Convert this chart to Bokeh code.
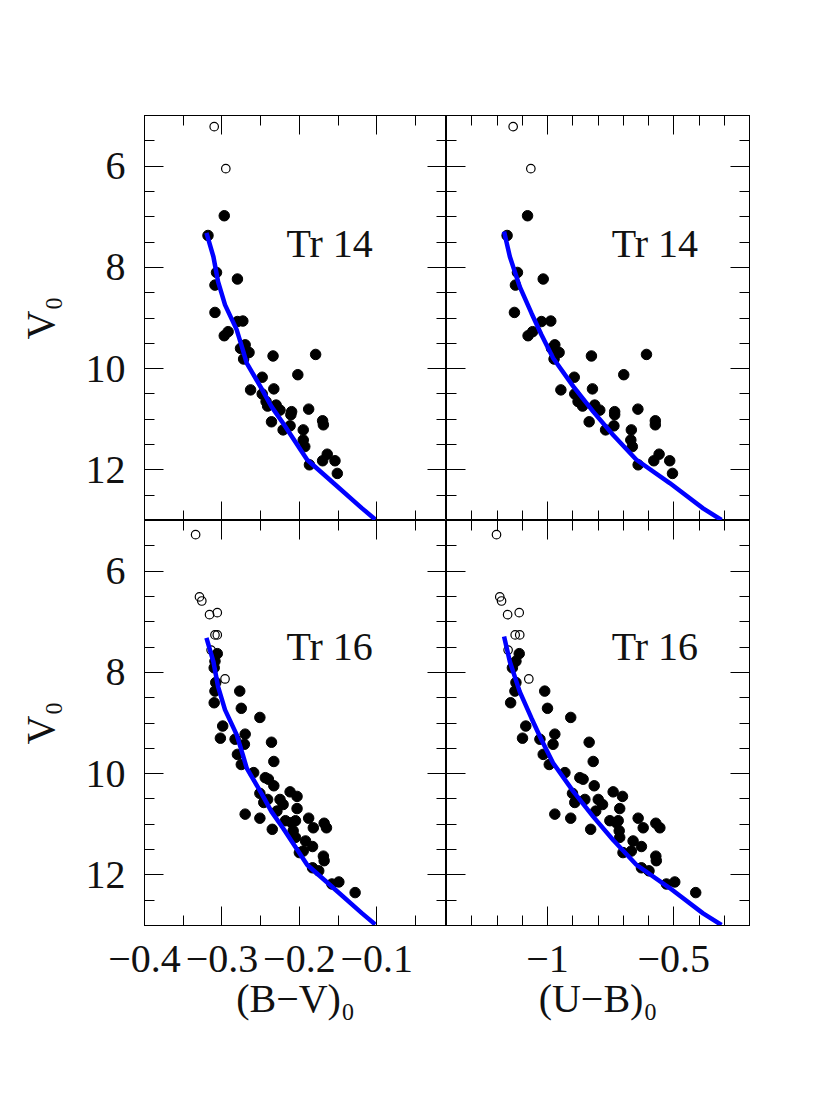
from bokeh.plotting import figure
from bokeh.layouts import column, row
from bokeh.models import (Range1d, FixedTicker, LinearAxis, CustomJSTickFormatter, Label,
                          CustomLabelingPolicy)
from bokeh.embed import file_html
from bokeh.resources import INLINE

# ---------------- data ----------------
# Tr 14 members (filled) : V0, (B-V)0, (U-B)0
tr14_V = [6.98, 7.37, 8.10, 8.35, 8.23, 8.89, 9.35, 9.27, 9.07, 9.06, 9.53, 9.60, 9.68, 9.81,
          9.75, 9.72, 10.12, 10.17, 10.42, 10.40, 10.50, 10.65, 10.74, 10.72, 10.82, 10.85,
          10.91, 10.80, 11.05, 11.21, 11.13, 11.03, 11.11, 11.21, 11.41, 11.54, 11.90, 11.82,
          11.69, 11.82, 12.07]
tr14_bv = [-0.297, -0.318, -0.307, -0.309, -0.280, -0.309, -0.297, -0.292, -0.280, -0.273,
           -0.270, -0.276, -0.265, -0.272, -0.234, -0.179, -0.202, -0.248, -0.263, -0.233,
           -0.248, -0.243, -0.241, -0.230, -0.225, -0.210, -0.211, -0.188, -0.236, -0.221,
           -0.212, -0.170, -0.169, -0.195, -0.195, -0.193, -0.187, -0.170, -0.164, -0.154,
           -0.151]
tr14_ub = [-1.079, -1.160, -1.119, -1.127, -1.017, -1.131, -1.077, -1.059, -1.024, -0.987,
           -0.971, -0.984, -0.954, -0.974, -0.826, -0.608, -0.698, -0.894, -0.947, -0.822,
           -0.892, -0.879, -0.861, -0.813, -0.793, -0.734, -0.734, -0.642, -0.835, -0.770,
           -0.737, -0.573, -0.573, -0.668, -0.670, -0.664, -0.641, -0.579, -0.558, -0.516,
           -0.505]
# Tr 14 bright stars (open)
tr14_open_V = [5.22, 6.05]
tr14_open_bv = [-0.310, -0.295]
tr14_open_ub = [-1.136, -1.066]

# Tr 16 members (filled)
tr16_V = [7.63, 7.78, 7.91, 8.20, 8.37, 8.60, 8.37, 8.71, 8.89, 9.06, 9.30, 9.32, 9.22, 9.42,
          9.38, 9.62, 9.82, 9.76, 9.98, 10.08, 10.11, 10.24, 10.39, 10.57, 10.51, 10.51, 10.61,
          10.36, 10.45, 10.69, 10.74, 10.93, 10.97, 10.93, 10.80, 10.88, 11.10, 11.13, 11.26,
          10.88, 11.07, 10.98, 11.07, 11.33, 11.44, 11.56, 11.53, 11.63, 11.72, 11.86, 11.92,
          12.18, 12.14, 12.35]
tr16_bv = [-0.306, -0.309, -0.310, -0.308, -0.309, -0.310, -0.277, -0.275, -0.251, -0.299,
           -0.302, -0.283, -0.270, -0.271, -0.236, -0.280, -0.275, -0.233, -0.259, -0.244,
           -0.240, -0.233, -0.251, -0.246, -0.241, -0.225, -0.221, -0.212, -0.203, -0.203,
           -0.229, -0.218, -0.210, -0.205, -0.270, -0.251, -0.235, -0.208, -0.205, -0.188,
           -0.182, -0.168, -0.165, -0.192, -0.183, -0.200, -0.195, -0.169, -0.168, -0.183,
           -0.175, -0.158, -0.149, -0.128]
tr16_ub = [-1.112, -1.125, -1.139, -1.125, -1.129, -1.146, -1.011, -1.000, -0.908, -1.086,
           -1.099, -1.030, -0.971, -0.978, -0.835, -1.017, -0.993, -0.819, -0.931, -0.872,
           -0.859, -0.815, -0.901, -0.892, -0.852, -0.799, -0.782, -0.740, -0.703, -0.714,
           -0.809, -0.753, -0.727, -0.720, -0.971, -0.908, -0.829, -0.716, -0.714, -0.641,
           -0.621, -0.571, -0.555, -0.661, -0.628, -0.701, -0.668, -0.571, -0.569, -0.628,
           -0.598, -0.529, -0.496, -0.413]
# Tr 16 bright stars (open)
tr16_open_V = [5.28, 6.51, 6.59, 6.86, 6.82, 7.26, 7.26, 8.13, 7.56]
tr16_open_bv = [-0.334, -0.329, -0.326, -0.316, -0.306, -0.309, -0.306, -0.296, -0.314]
tr16_open_ub = [-1.202, -1.189, -1.182, -1.158, -1.112, -1.128, -1.110, -1.074, -1.156]

# ZAMS sequences
zams_bv_V = [7.32, 7.79, 8.28, 8.74, 9.23, 9.63, 9.89, 10.39, 10.75, 11.08, 11.80, 12.26, 12.76, 12.98]
zams_bv = [-0.320, -0.311, -0.305, -0.296, -0.281, -0.273, -0.268, -0.249, -0.236, -0.221,
           -0.190, -0.156, -0.119, -0.102]
zams_ub_V = [7.29, 7.79, 8.38, 8.91, 9.33, 9.79, 10.35, 10.85, 11.31, 11.80, 12.26, 12.76, 12.99]
zams_ub = [-1.172, -1.149, -1.110, -1.063, -1.024, -0.978, -0.898, -0.819, -0.740, -0.648,
           -0.516, -0.384, -0.311]

# axes ticks
bv_major = [-0.4, -0.3, -0.2, -0.1]
bv_minor = [-0.4, -0.35, -0.3, -0.25, -0.2, -0.15, -0.1, -0.05]
ub_major = [-1.0, -0.5]
ub_minor = [-1.4, -1.3, -1.2, -1.1, -1.0, -0.9, -0.8, -0.7, -0.6, -0.5, -0.4, -0.3, -0.2]
v_major = [6, 8, 10, 12]
v_minor = [5, 5.5, 6, 6.5, 7, 7.5, 8, 8.5, 9, 9.5, 10, 10.5, 11, 11.5, 12, 12.5, 13]

FONT = "Liberation Serif"
FS = "40px"
TXT = "#111111"
BLUE = "#0000ff"

fmt_code = """
const s = Math.abs(tick).toString();
return tick < 0 ? "\u2212" + s : s;
"""


def style_axis(ax, ticker, show_labels):
    ax.ticker = ticker
    ax.formatter = CustomJSTickFormatter(code=fmt_code)
    ax.major_tick_in = 19
    ax.major_tick_out = 0
    ax.minor_tick_in = 10
    ax.minor_tick_out = 0
    ax.axis_line_color = "black"
    ax.major_tick_line_color = "black"
    ax.minor_tick_line_color = "black"
    ax.axis_line_width = 1
    ax.major_tick_line_width = 1
    ax.minor_tick_line_width = 1
    ax.major_label_text_font = FONT
    ax.axis_label_text_font = FONT
    ax.axis_label_text_font_style = "normal"
    ax.major_label_text_color = TXT
    ax.axis_label_text_color = TXT
    if show_labels:
        ax.major_label_text_font_size = FS
        ax.axis_label_text_font_size = FS
    else:
        ax.major_label_text_font_size = "0px"
        ax.major_label_standoff = 0
        ax.major_label_policy = CustomLabelingPolicy(code="return new Set()")
        ax.axis_label = None


def panel(xr, xmaj, xmin, show_x, show_y, xlabel, width, height, borders):
    bl, br, bt, bb = borders
    p = figure(width=width, height=height, x_range=Range1d(*xr), y_range=Range1d(13, 5),
               toolbar_location=None, output_backend="svg",
               min_border_left=bl, min_border_right=br, min_border_top=bt, min_border_bottom=bb)
    p.grid.visible = False
    p.outline_line_color = "black"
    p.background_fill_color = "white"
    p.border_fill_color = "white"
    xt = FixedTicker(ticks=xmaj, minor_ticks=xmin)
    yt = FixedTicker(ticks=v_major, minor_ticks=v_minor)
    style_axis(p.xaxis[0], xt, show_x)
    style_axis(p.yaxis[0], yt, show_y)
    if show_x:
        p.xaxis[0].axis_label = xlabel
        p.xaxis[0].major_label_standoff = 20
        p.xaxis[0].axis_label_standoff = 1
    if show_y:
        p.yaxis[0].axis_label = "V\u2080"
        p.yaxis[0].major_label_standoff = 19
        p.yaxis[0].axis_label_standoff = 20
    top = LinearAxis()
    style_axis(top, FixedTicker(ticks=xmaj, minor_ticks=xmin), False)
    right = LinearAxis()
    style_axis(right, FixedTicker(ticks=v_major, minor_ticks=v_minor), False)
    p.add_layout(top, "above")
    p.add_layout(right, "right")
    return p


def draw(p, x, V, xo, Vo, zx, zV, label, lx, ly):
    p.scatter(x, V, size=10.5, marker="circle", fill_color="black", line_color="black")
    p.scatter(xo, Vo, size=8.5, marker="circle", fill_color=None, line_color="black", line_width=1.2)
    p.line(zx, zV, line_color=BLUE, line_width=4.5)
    p.add_layout(Label(x=lx, y=ly, text=label, text_font=FONT, text_font_size=FS,
                       text_align="center", text_baseline="alphabetic", text_color=TXT))


WL, WR = 446, 333
HT, HB = 520, 545
BV_R = (-0.4, -0.01)
UB_R = (-1.4, -0.2)

p1 = panel(BV_R, bv_major, bv_minor, False, True, None, WL, HT, (144, 0, 115, 0))
p2 = panel(UB_R, ub_major, ub_minor, False, False, None, WR, HT, (0, 30, 115, 0))
p3 = panel(BV_R, bv_major, bv_minor, True, True, "(B\u2212V)\u2080", WL, HB, (144, 0, 0, 140))
p4 = panel(UB_R, ub_major, ub_minor, True, False, "(U\u2212B)\u2080", WR, HB, (0, 30, 0, 140))

draw(p1, tr14_bv, tr14_V, tr14_open_bv, tr14_open_V, zams_bv, zams_bv_V, "Tr 14", -0.161, 7.52)
draw(p2, tr14_ub, tr14_V, tr14_open_ub, tr14_open_V, zams_ub, zams_ub_V, "Tr 14", -0.575, 7.52)
draw(p3, tr16_bv, tr16_V, tr16_open_bv, tr16_open_V, zams_bv, zams_bv_V, "Tr 16", -0.161, 7.49)
draw(p4, tr16_ub, tr16_V, tr16_open_ub, tr16_open_V, zams_ub, zams_ub_V, "Tr 16", -0.575, 7.49)

layout = column(row(p1, p2, spacing=0), row(p3, p4, spacing=0), spacing=0)

open("out.html", "w").write(file_html(layout, INLINE))
